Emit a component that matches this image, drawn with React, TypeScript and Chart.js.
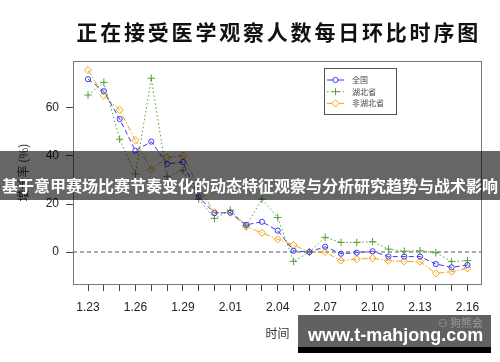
import React, { useEffect, useRef } from 'react';
import { Chart, registerables } from 'chart.js';

Chart.register(...registerables);

// ---------------- data ----------------
const dates = ['1.23', '1.24', '1.25', '1.26', '1.27', '1.28', '1.29', '1.30', '1.31', '2.01', '2.02', '2.03', '2.04', '2.05', '2.06', '2.07', '2.08', '2.09', '2.10', '2.11', '2.12', '2.13', '2.14', '2.15', '2.16'];
const national = [72, 67, 55.4, 42.2, 46, 36.7, 37.5, 23, 16.2, 16.4, 11.3, 12.6, 8.9, 0.5, 0, 2.2, -0.7, -0.3, 0.3, -1.9, -1.9, -1.9, -5, -6.4, -5.4];
const hubei = [65.4, 70.7, 47, 32.5, 72.4, 31.4, 34, 22, 14, 17.4, 11, 22, 14.4, -3.9, 0, 6.1, 4, 4, 4.3, 1.2, 0.3, 0.5, -0.3, -4, -3.6];
const nonHubei = [75.8, 65.1, 59.2, 46.5, 34.4, 39.3, 40.2, 27, 16.5, 16.4, 10.5, 8, 5.3, 2.9, 0, 0, -3.6, -3, -2.6, -3.6, -3.9, -4, -8.9, -8.2, -6.8];
const seriesNames = ['全国', '湖北省', '非湖北省'];
const yTickValues = [0, 20, 40, 60];
const labelEvery = 3;
const titleText = '正在接受医学观察人数每日环比时序图';
const xTitle = '时间';
const yTitle = '增长率 (%)';
const bannerText = '基于意甲赛场比赛节奏变化的动态特征观察与分析研究趋势与战术影响';
const watermarkText = 'www.t-mahjong.com';
const watermarkSmall = '狗熊会';

// ---------------- styles ----------------
const BLUE = '#3a3af2';
const GREEN = '#57a035';
const ORANGE = '#f2a516';
const seriesStyles = [
  { color: BLUE, dash: [5, 3], marker: 'circle' },
  { color: GREEN, dash: [1.5, 2.5], marker: 'cross' },
  { color: ORANGE, dash: [6, 2, 1.5, 2], marker: 'diamond' },
];
const seriesData = [national, hubei, nonHubei];

const CJK = '"Noto Sans CJK SC", "Noto Sans", sans-serif';
const SANS = '"Liberation Sans", Arial, sans-serif';

function drawMarker(ctx: CanvasRenderingContext2D, kind: string, x: number, y: number, color: string) {
  ctx.save();
  ctx.setLineDash([]);
  ctx.strokeStyle = color;
  ctx.lineWidth = 1;
  ctx.fillStyle = '#fff';
  ctx.beginPath();
  if (kind === 'circle') {
    ctx.arc(x, y, 2.6, 0, Math.PI * 2);
    ctx.fill();
    ctx.stroke();
  } else if (kind === 'cross') {
    ctx.moveTo(x - 3.5, y);
    ctx.lineTo(x + 3.5, y);
    ctx.moveTo(x, y - 3.5);
    ctx.lineTo(x, y + 3.5);
    ctx.stroke();
  } else {
    ctx.moveTo(x, y - 3.6);
    ctx.lineTo(x + 3.6, y);
    ctx.lineTo(x, y + 3.6);
    ctx.lineTo(x - 3.6, y);
    ctx.closePath();
    ctx.fill();
    ctx.stroke();
  }
  ctx.restore();
}

const decorPlugin = {
  id: 'decor',
  beforeDatasetsDraw(chart: any) {
    const { ctx, chartArea, scales } = chart;
    const y0 = scales.y.getPixelForValue(0);
    ctx.save();
    ctx.strokeStyle = '#555';
    ctx.lineWidth = 1.2;
    ctx.setLineDash([4, 3]);
    ctx.beginPath();
    ctx.moveTo(chartArea.left, y0);
    ctx.lineTo(chartArea.right, y0);
    ctx.stroke();
    ctx.restore();
  },
  afterDraw(chart: any) {
    const { ctx, chartArea } = chart;
    ctx.save();
    // frame
    ctx.strokeStyle = '#777';
    ctx.lineWidth = 1;
    ctx.setLineDash([]);
    ctx.strokeRect(chartArea.left + 0.5, chartArea.top + 0.5, chartArea.right - chartArea.left - 1, chartArea.bottom - chartArea.top);

    // title, char by char
    ctx.fillStyle = '#111';
    ctx.font = `bold 21px ${CJK}`;
    ctx.textAlign = 'center';
    ctx.textBaseline = 'middle';
    const chars = Array.from(titleText);
    const step = 23.8;
    chars.forEach((c, i) => ctx.fillText(c, 75 + step * (i + 0.5), 32));

    // x title
    ctx.fillStyle = '#333';
    ctx.font = `12px ${CJK}`;
    ctx.fillText(xTitle, (chartArea.left + chartArea.right) / 2, 333);

    // y title
    ctx.save();
    ctx.translate(23, (chartArea.top + chartArea.bottom) / 2);
    ctx.rotate(-Math.PI / 2);
    ctx.font = `12px ${CJK}`;
    ctx.fillText(yTitle, 0, 0);
    ctx.restore();

    // legend
    const lx = 324, ly = 68, lw = 72, lh = 46;
    ctx.fillStyle = '#fff';
    ctx.fillRect(lx, ly, lw, lh);
    ctx.strokeStyle = '#555';
    ctx.strokeRect(lx + 0.5, ly + 0.5, lw, lh);
    seriesNames.forEach((name, i) => {
      const st = seriesStyles[i];
      const ry = 80 + i * 11.7;
      ctx.save();
      ctx.strokeStyle = st.color;
      ctx.lineWidth = 1;
      ctx.setLineDash(i === 0 ? [] : st.dash);
      ctx.beginPath();
      ctx.moveTo(327, ry);
      ctx.lineTo(344, ry);
      ctx.stroke();
      ctx.restore();
      drawMarker(ctx, st.marker, 335.5, ry, st.color);
      ctx.fillStyle = '#444';
      ctx.font = `8px ${CJK}`;
      ctx.textAlign = 'left';
      ctx.textBaseline = 'middle';
      ctx.fillText(name, 352, ry);
    });
    ctx.restore();
  },
};

const pointStyles: Record<string, any> = { circle: 'circle', cross: 'cross', diamond: 'rectRot' };

export default function App() {
  const ref = useRef<HTMLCanvasElement | null>(null);

  useEffect(() => {
    if (!ref.current) return;
    const chart = new Chart(ref.current, {
      type: 'line',
      data: {
        datasets: seriesData.map((vals, si) => {
          const st = seriesStyles[si];
          return {
            label: seriesNames[si],
            data: vals.map((v, i) => ({ x: i, y: v })),
            borderColor: st.color,
            borderWidth: 1,
            borderDash: st.dash,
            pointStyle: pointStyles[st.marker],
            pointRadius: st.marker === 'circle' ? 2.6 : st.marker === 'cross' ? 3.8 : 3.6,
            pointBorderWidth: 1,
            pointBorderColor: st.color,
            pointBackgroundColor: st.marker === 'cross' ? st.color : 'rgba(255,255,255,0)',
            fill: false,
            tension: 0,
          };
        }),
      },
      options: {
        animation: false,
        responsive: false,
        events: [],
        layout: { padding: { top: 61, right: 18, left: 0, bottom: 0 } },
        plugins: { legend: { display: false }, title: { display: false }, tooltip: { enabled: false } },
        scales: {
          x: {
            type: 'linear',
            bounds: 'data',
            min: -0.95,
            max: 24.92,
            afterBuildTicks: (s: any) => { s.ticks = dates.map((_, i) => ({ value: i })); },
            afterFit: (s: any) => { s.height = 78; },
            border: { display: false },
            grid: { drawOnChartArea: false, drawTicks: true, tickLength: 7, color: '#444', lineWidth: 1 },
            ticks: {
              autoSkip: false,
              maxRotation: 0,
              minRotation: 0,
              padding: 9,
              color: '#222',
              font: { family: SANS, size: 12 },
              callback: (v: any) => (Number.isInteger(v) && v % labelEvery === 0 ? dates[v] : ''),
            },
          },
          y: {
            type: 'linear',
            bounds: 'data',
            min: -13.33,
            max: 79.58,
            afterBuildTicks: (s: any) => { s.ticks = yTickValues.map((v) => ({ value: v })); },
            afterFit: (s: any) => { s.width = 73; },
            border: { display: false },
            grid: { drawOnChartArea: false, drawTicks: true, tickLength: 7, color: '#444', lineWidth: 1 },
            ticks: { padding: 7, color: '#222', font: { family: SANS, size: 12 } },
          },
        },
      },
      plugins: [decorPlugin],
    } as any);
    return () => chart.destroy();
  }, []);

  return (
    <div style={{ position: 'fixed', left: 0, top: 0, width: 500, height: 362, background: '#fff', overflow: 'hidden' }}>
      <canvas ref={ref} width={500} height={362} style={{ display: 'block', width: 500, height: 362 }} />
      <div style={{ position: 'absolute', left: 0, top: 151, width: 500, height: 49, background: 'rgba(0,0,0,0.6)' }}>
        <div style={{ position: 'absolute', left: 0, top: 24, width: 500, textAlign: 'center', color: '#fff', fontFamily: CJK, fontWeight: 'bold', fontSize: 16, lineHeight: '20px', whiteSpace: 'nowrap' }}>
          {bannerText}
        </div>
      </div>
      <div style={{ position: 'absolute', left: 298, top: 315, width: 193, height: 32, background: 'rgba(0,0,0,0.62)' }}>
        <div style={{ position: 'absolute', right: 8, top: 0, color: 'rgba(255,255,255,0.35)', fontFamily: CJK, fontSize: 11, lineHeight: '14px', whiteSpace: 'nowrap' }}>
          ⚇ {watermarkSmall}
        </div>
        <div style={{ position: 'absolute', left: 10, top: 10, color: '#fff', fontFamily: SANS, fontWeight: 'bold', fontSize: 18, lineHeight: '20px', whiteSpace: 'nowrap' }}>
          {watermarkText}
        </div>
      </div>
      <div style={{ position: 'absolute', left: 298, top: 347, width: 193, height: 6, background: '#000' }} />
    </div>
  );
}
